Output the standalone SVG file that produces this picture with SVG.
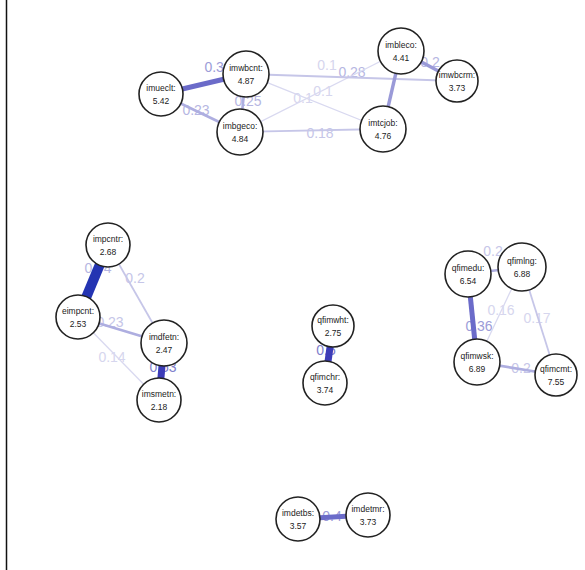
<svg xmlns="http://www.w3.org/2000/svg" width="585" height="570" viewBox="0 0 585 570">
  <style>
    .node circle { fill: #ffffff; stroke: #222222; stroke-width: 1.6; }
    .node text { font-family: "Liberation Sans", Arial, sans-serif; font-size: 8.5px; fill: #222222; text-anchor: middle; }
    .elab { font-family: "Liberation Sans", Arial, sans-serif; font-size: 14px; text-anchor: middle; }
    .e { fill: none; stroke-linecap: butt; }
    .e10 { stroke: #d9d9f0; stroke-width: 1.3; }
    .e15 { stroke: #c6c6e8; stroke-width: 1.8; }
    .e20 { stroke: #aeaee0; stroke-width: 2.6; }
    .e28 { stroke: #9a9ad8; stroke-width: 3.4; }
    .e36 { stroke: #6b6bc9; stroke-width: 5; }
    .e50 { stroke: #3c3cb8; stroke-width: 7; }
    .e74 { stroke: #2434b2; stroke-width: 10; }
    .l10 { fill: #d6d6ee; }
    .l15 { fill: #c6c6e8; }
    .l20 { fill: #b6b6e2; }
    .l36 { fill: #9c9cd8; }
    .l50 { fill: #8080cc; }
  </style>
  <rect width="585" height="570" fill="#ffffff"/>
  <line x1="6.5" y1="0" x2="6.5" y2="570" stroke="#111111" stroke-width="1.5"/>

  <!-- edge weight labels (drawn beneath the edges) -->
  <g id="edge-labels">
    <text class="elab l36" x="218" y="72">0.38</text>
    <text class="elab l20" x="196" y="115">0.23</text>
    <text class="elab l20" x="248" y="106">0.25</text>
    <text class="elab l10" x="303" y="103">0.1</text>
    <text class="elab l10" x="323" y="96">0.1</text>
    <text class="elab l10" x="327" y="70">0.1</text>
    <text class="elab l20" x="352" y="77">0.28</text>
    <text class="elab l20" x="430" y="67">0.2</text>
    <text class="elab l15" x="320" y="138">0.18</text>
    <text class="elab l20" x="98" y="273">0.74</text>
    <text class="elab l15" x="135" y="283">0.2</text>
    <text class="elab l15" x="110" y="327">0.23</text>
    <text class="elab l10" x="112" y="362">0.14</text>
    <text class="elab l50" x="163" y="372">0.53</text>
    <text class="elab l50" x="326" y="355">0.5</text>
    <text class="elab l15" x="493" y="256">0.2</text>
    <text class="elab l36" x="479" y="331">0.36</text>
    <text class="elab l10" x="501" y="315">0.16</text>
    <text class="elab l10" x="537" y="323">0.17</text>
    <text class="elab l15" x="521" y="373">0.2</text>
    <text class="elab l36" x="332" y="521">0.4</text>
  </g>

  <g id="edges">
    <!-- immigration attitudes cluster -->
    <line class="e e36" x1="161" y1="94" x2="246" y2="74"/>
    <line class="e e20" x1="161" y1="94" x2="240" y2="132"/>
    <line class="e e20" x1="246" y1="74" x2="240" y2="132"/>
    <line class="e e10" x1="246" y1="74" x2="383" y2="129"/>
    <line class="e e10" x1="240" y1="132" x2="401" y2="51"/>
    <line class="e e15" x1="246" y1="74" x2="457" y2="81"/>
    <line class="e e28" x1="401" y1="51" x2="383" y2="129"/>
    <line class="e e28" x1="401" y1="51" x2="457" y2="81"/>
    <line class="e e15" x1="240" y1="132" x2="383" y2="129"/>
    <!-- allow immigrants cluster -->
    <line class="e e74" x1="108" y1="245" x2="78" y2="317"/>
    <line class="e e15" x1="108" y1="245" x2="164" y2="343"/>
    <line class="e e20" x1="78" y1="317" x2="164" y2="343"/>
    <line class="e e10" x1="78" y1="317" x2="159" y2="400"/>
    <line class="e e50" x1="164" y1="343" x2="159" y2="400"/>
    <!-- qualification pair -->
    <line class="e e50" x1="333" y1="326" x2="325" y2="383"/>
    <!-- qualification cluster -->
    <line class="e e20" x1="468" y1="274" x2="522" y2="267"/>
    <line class="e e36" x1="468" y1="274" x2="477" y2="362"/>
    <line class="e e10" x1="522" y1="267" x2="477" y2="362"/>
    <line class="e e15" x1="522" y1="267" x2="556" y2="375"/>
    <line class="e e20" x1="477" y1="362" x2="556" y2="375"/>
    <!-- detail pair -->
    <line class="e e36" x1="298" y1="519" x2="368" y2="515"/>
  </g>

  <g id="imwbcnt" class="node"><circle cx="246" cy="74" r="23"/><text x="246" y="71">imwbcnt:</text><text x="246" y="84">4.87</text></g>
  <g id="imbleco" class="node"><circle cx="401" cy="51" r="23"/><text x="401" y="48">imbleco:</text><text x="401" y="61">4.41</text></g>
  <g id="imwbcrm" class="node"><circle cx="457" cy="81" r="21"/><text x="457" y="78">imwbcrm:</text><text x="457" y="91">3.73</text></g>
  <g id="imueclt" class="node"><circle cx="161" cy="94" r="22"/><text x="161" y="91">imueclt:</text><text x="161" y="104">5.42</text></g>
  <g id="imbgeco" class="node"><circle cx="240" cy="132" r="23"/><text x="240" y="129">imbgeco:</text><text x="240" y="142">4.84</text></g>
  <g id="imtcjob" class="node"><circle cx="383" cy="129" r="23"/><text x="383" y="126">imtcjob:</text><text x="383" y="139">4.76</text></g>
  <g id="impcntr" class="node"><circle cx="108" cy="245" r="22"/><text x="108" y="242">impcntr:</text><text x="108" y="255">2.68</text></g>
  <g id="eimpcnt" class="node"><circle cx="78" cy="317" r="22"/><text x="78" y="314">eimpcnt:</text><text x="78" y="327">2.53</text></g>
  <g id="imdfetn" class="node"><circle cx="164" cy="343" r="23"/><text x="164" y="340">imdfetn:</text><text x="164" y="353">2.47</text></g>
  <g id="imsmetn" class="node"><circle cx="159" cy="400" r="22"/><text x="159" y="397">imsmetn:</text><text x="159" y="410">2.18</text></g>
  <g id="qfimwht" class="node"><circle cx="333" cy="326" r="21"/><text x="333" y="323">qfimwht:</text><text x="333" y="336">2.75</text></g>
  <g id="qfimchr" class="node"><circle cx="325" cy="383" r="22"/><text x="325" y="380">qfimchr:</text><text x="325" y="393">3.74</text></g>
  <g id="qfimlng" class="node"><circle cx="522" cy="267" r="24"/><text x="522" y="264">qfimlng:</text><text x="522" y="277">6.88</text></g>
  <g id="qfimedu" class="node"><circle cx="468" cy="274" r="23"/><text x="468" y="271">qfimedu:</text><text x="468" y="284">6.54</text></g>
  <g id="qfimwsk" class="node"><circle cx="477" cy="362" r="23"/><text x="477" y="359">qfimwsk:</text><text x="477" y="372">6.89</text></g>
  <g id="qfimcmt" class="node"><circle cx="556" cy="375" r="21"/><text x="556" y="372">qfimcmt:</text><text x="556" y="385">7.55</text></g>
  <g id="imdetbs" class="node"><circle cx="298" cy="519" r="22"/><text x="298" y="516">imdetbs:</text><text x="298" y="529">3.57</text></g>
  <g id="imdetmr" class="node"><circle cx="368" cy="515" r="22"/><text x="368" y="512">imdetmr:</text><text x="368" y="525">3.73</text></g>
</svg>
